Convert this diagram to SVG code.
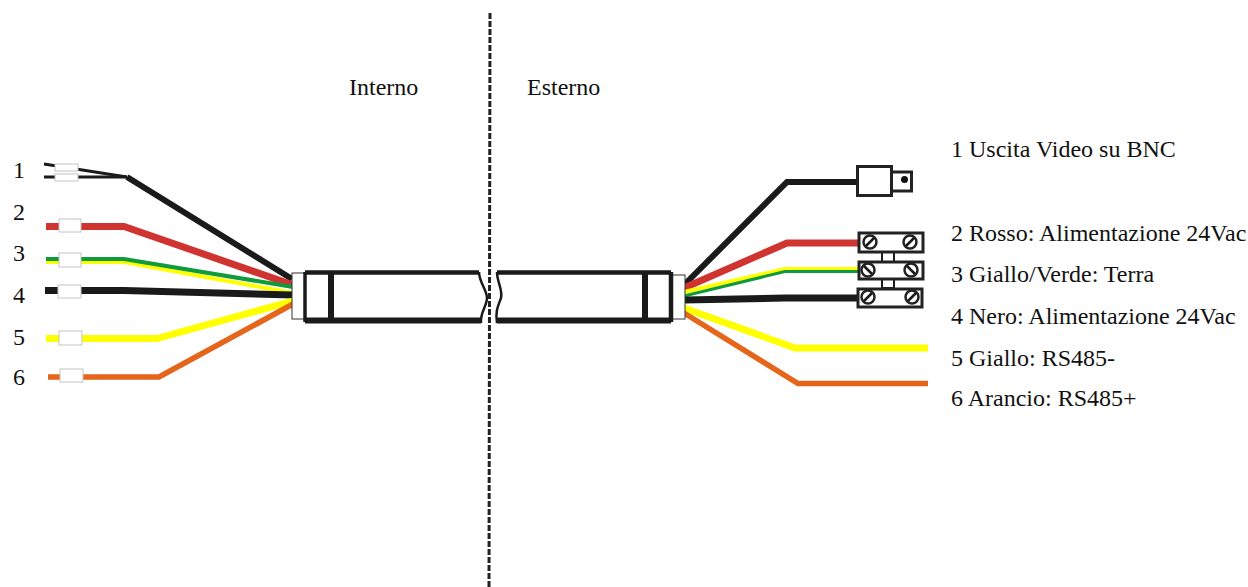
<svg xmlns="http://www.w3.org/2000/svg" width="1248" height="587" viewBox="0 0 1248 587">
<style>
text{font-family:"Liberation Serif","Times New Roman",serif;font-size:24px;fill:#111}
.w{fill:none;stroke-linejoin:miter}
.k{stroke:#1a1a1a}.r{stroke:#cf3430}.g{stroke:#0f9a3c}.y{stroke:#ffff00}.o{stroke:#e5651a}
.sl{fill:#fff;stroke:#c4c4c4;stroke-width:1}
.box{fill:#fff;stroke:#222;stroke-width:3}
.sc{fill:#fff;stroke:#222;stroke-width:2.5}
.cb{fill:none;stroke:#1a1a1a;stroke-width:2.5}
.ct{stroke:#1a1a1a;stroke-width:2;fill:#fff}
.cab{fill:none;stroke:#1a1a1a}
</style>
<rect width="1248" height="587" fill="#fff"/>
<g id="divider"><line x1="490" y1="13" x2="489" y2="587" stroke="#222" stroke-width="3" stroke-dasharray="6 2"/></g>
<g id="connectors">
<path class="w k" stroke-width="3" d="M44 164L127 177"/>
<path class="w k" stroke-width="3" d="M44 177H127"/>
<path class="w k" stroke-width="6" d="M127 177L292 279"/>
<path class="w r" stroke-width="7" d="M46 226.500H124L293 285"/>
<path class="w y" stroke-width="4" d="M46 262H124L293 293"/>
<path class="w g" stroke-width="4" d="M46 259H124L293 287"/>
<path class="w k" stroke-width="7" d="M45 290.500H124L293 295"/>
<path class="w y" stroke-width="7" d="M46 338.500H157L293 301"/>
<path class="w o" stroke-width="5.500" d="M48 377H159L293 304"/>
<path class="w k" stroke-width="6" d="M685 284L787 182H858"/>
<path class="w r" stroke-width="7" d="M684 288L787 243H860"/>
<path class="w y" stroke-width="4" d="M684 292L785 269H860"/>
<path class="w g" stroke-width="3" d="M684 296L785 271.500H860"/>
<path class="w k" stroke-width="7" d="M684 300L785 298H860"/>
<path class="w y" stroke-width="7" d="M684 308L795 348H928"/>
<path class="w o" stroke-width="5.500" d="M684 313L798 383.500H928"/>
</g>
<g id="cable-left">
<rect x="292" y="273" width="13" height="46" fill="#fff" stroke="#333" stroke-width="1"/>
<path class="cab" stroke-width="4.500" d="M305 272.500H479"/>
<path class="cab" stroke-width="6" d="M305 320.500H481"/>
<path class="cab" stroke-width="3.500" d="M305 272V322"/>
<path class="cab" stroke-width="6" d="M331 273V319"/>
<path class="cab" stroke-width="2.500" d="M479 272C479 282 487 290 487 298C487 306 480 312 481 323"/>
</g>
<g id="cable-right">
<rect x="671" y="275" width="14" height="44" fill="#fff" stroke="#333" stroke-width="1"/>
<path class="cab" stroke-width="4.500" d="M497 272.500H671"/>
<path class="cab" stroke-width="6" d="M497 320.500H671"/>
<path class="cab" stroke-width="4.500" d="M671 272V322"/>
<path class="cab" stroke-width="6" d="M645 273V319"/>
<path class="cab" stroke-width="2.500" d="M497 272C497 282 503 290 501 298C498 306 495 312 497 323"/>
</g>
<g id="sleeves">
<rect class="sl" x="55" y="164" width="23" height="7"/>
<rect class="sl" x="55" y="174" width="23" height="7"/>
<rect class="sl" x="59" y="219" width="22" height="13"/>
<rect class="sl" x="59" y="253" width="22" height="14"/>
<rect class="sl" x="58" y="285" width="23" height="13"/>
<rect class="sl" x="59" y="331" width="23" height="14"/>
<rect class="sl" x="60" y="369" width="23" height="13"/>
</g>
<g id="bnc">
<rect class="box" x="857.500" y="166.500" width="34" height="29"/>
<rect class="box" x="891.500" y="172" width="20" height="19"/>
<circle cx="904.500" cy="179.500" r="3.500" fill="#111"/>
</g>
<g id="terminal-block">
<rect class="ct" x="882" y="252" width="12" height="10"/>
<rect class="ct" x="882" y="279" width="12" height="9"/>
<rect class="box" x="859" y="233" width="64" height="19"/>
<rect class="box" x="859" y="262" width="64" height="17"/>
<rect class="box" x="858" y="289" width="64" height="18"/>
<g id="screws">
<circle class="sc" cx="870" cy="242" r="6.500"/><line class="cb" x1="866" y1="246" x2="874" y2="238"/>
<circle class="sc" cx="910" cy="242" r="6.500"/><line class="cb" x1="906" y1="246" x2="914" y2="238"/>
<circle class="sc" cx="868" cy="270" r="6.500"/><line class="cb" x1="864" y1="266" x2="872" y2="274"/>
<circle class="sc" cx="911" cy="270" r="6.500"/><line class="cb" x1="907" y1="266" x2="915" y2="274"/>
<circle class="sc" cx="868" cy="297" r="6.500"/><line class="cb" x1="864" y1="301" x2="872" y2="293"/>
<circle class="sc" cx="912" cy="297" r="6.500"/><line class="cb" x1="908" y1="301" x2="916" y2="293"/>
</g>
</g>
<g id="labels">
<text x="349" y="95">Interno</text>
<text x="527" y="95">Esterno</text>
<text x="13" y="178">1</text>
<text x="13" y="220">2</text>
<text x="13" y="261">3</text>
<text x="13" y="303">4</text>
<text x="13" y="345">5</text>
<text x="13" y="385">6</text>
<text x="951" y="157">1 Uscita Video su BNC</text>
<text x="951" y="241">2 Rosso: Alimentazione 24Vac</text>
<text x="951" y="282">3 Giallo/Verde: Terra</text>
<text x="951" y="324">4 Nero: Alimentazione 24Vac</text>
<text x="951" y="366">5 Giallo: RS485-</text>
<text x="951" y="406">6 Arancio: RS485+</text>
</g>
</svg>
